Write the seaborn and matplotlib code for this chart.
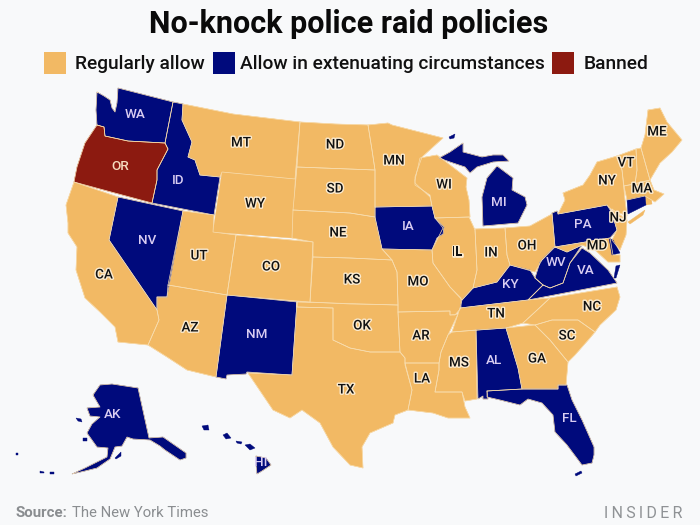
import matplotlib
matplotlib.use('Agg')
import matplotlib.pyplot as plt
import matplotlib.patheffects as pe
import pandas as pd
import seaborn as sns

# State outlines (map units, y grows downward)
WA = [(97,92),(104,96),(110,100),(112,108),(115,112),(117,103),(118,88),(173,102),(165,143),(128,141),(105,136),(104,127),(97,125),(96,110)]
OR = [(97,125),(104,127),(105,136),(128,141),(165,143),(168,149),(157,170),(157,180),(152,203),(74,182),(77,167),(85,143)]
ID = [(173,102),(183,104),(182,120),(192,142),(188,157),(195,160),(200,175),(220,177),(214,215),(152,203),(157,180),(157,170),(168,149),(165,143)]
MT = [(183,104),(233,114),(300,122),(296,167),(295,179),(222,172),(220,177),(200,175),(195,160),(188,157),(192,142),(182,120)]
ND = [(300,122),(335,124),(368,125),(372,150),(375,170),(297,167)]
SD = [(297,167),(375,170),(375,207),(375,217),(350,213),(293,210)]
WY = [(222,172),(295,179),(292,238),(213,232)]
NE = [(293,210),(350,213),(375,217),(382,249),(392,260),(350,258),(313,257),(313,242),(292,238)]
CO = [(236,235),(313,242),(310,302),(297,301),(227,295)]
UT = [(183,211),(214,215),(213,232),(236,235),(227,295),(168,285)]
NV = [(118,197),(183,211),(167,297),(157,297),(157,310),(109,240)]
CA = [(74,182),(118,197),(109,240),(157,310),(159,320),(148,345),(118,342),(115,327),(100,312),(85,298),(76,270),(77,247),(68,233),(68,223),(66,205)]
AZ = [(168,285),(227,295),(216,377),(187,370),(167,357),(148,345),(159,320),(157,310),(157,297),(167,297)]
NM = [(227,295),(297,302),(292,375),(247,372),(246,374),(227,375),(226,379),(216,377)]
TX = [(297,302),(297,307),(333,308),(333,340),(350,348),(370,352),(400,352),(405,358),(405,365),(412,390),(408,410),(395,415),(393,423),(370,433),(362,447),(363,468),(350,465),(333,447),(320,423),(302,410),(290,418),(273,410),(248,373),(292,375)]
OK = [(297,302),(398,305),(398,312),(400,352),(370,352),(350,348),(333,340),(333,308),(297,307)]
KS = [(313,257),(350,258),(392,260),(397,272),(398,305),(350,304),(310,302)]
MO = [(382,249),(432,250),(433,263),(450,287),(461,298),(461,308),(455,315),(450,315),(450,311),(398,312),(398,303),(397,272),(392,260)]
AR = [(398,312),(450,311),(450,315),(458,314),(448,335),(441,352),(439,363),(405,363),(405,358),(400,352)]
LA = [(405,363),(439,363),(439,370),(435,392),(462,392),(465,407),(470,418),(448,418),(433,413),(408,410),(412,390)]
MS = [(452,332),(476,330),(477,399),(465,401),(462,392),(435,392),(439,370),(439,363),(441,352),(448,335)]
AL = [(476,330),(506,328),(518,368),(522,389),(487,391),(488,399),(483,399),(483,396),(478,399)]
FL = [(487,391),(522,389),(558,389),(558,385),(567,385),(572,400),(582,420),(594,447),(594,455),(592,463),(582,465),(567,445),(555,432),(553,415),(542,403),(528,399),(520,405),(500,400),(487,397)]
FL_KEYS = [(575,474),(581,471),(582,473),(576,476)]
GA = [(506,328),(535,325),(550,340),(568,362),(566,385),(558,385),(558,389),(522,389),(518,368)]
SC = [(535,325),(552,320),(578,320),(595,332),(590,338),(575,355),(568,362),(550,340)]
NC = [(617,287),(620,297),(616,310),(600,325),(595,332),(578,320),(552,320),(535,325),(523,323),(535,312),(550,298)]
TN = [(460,308),(528,300),(550,298),(535,312),(523,323),(506,328),(452,332),(458,314)]
KY = [(460,308),(462,300),(473,288),(497,282),(510,265),(530,270),(535,278),(543,285),(528,300)]
WV = [(535,278),(540,262),(553,248),(555,247),(567,252),(582,245),(570,263),(563,283),(550,288),(543,285)]
VA = [(543,285),(550,288),(563,283),(570,263),(582,248),(590,253),(608,270),(617,283),(528,300)]
VA_SHORE = [(616,266),(620,265),(616,278),(614,278)]
MD = [(555,247),(610,238),(613,255),(620,255),(620,262),(608,262),(595,250),(582,245),(567,252)]
DE = [(609,238),(613,240),(620,253),(612,255)]
PA = [(552,213),(557,211),(558,214),(607,205),(612,213),(617,230),(610,238),(555,247)]
NJ = [(612,209),(627,220),(626,235),(620,250),(612,240),(617,230),(612,213)]
NY = [(563,193),(583,185),(590,175),(597,162),(617,156),(622,170),(625,200),(627,216),(612,210),(607,205),(558,214),(565,200)]
NY_LONG = [(628,222),(645,210),(643,215),(630,224)]
VT = [(617,156),(636,149),(637,170),(635,184),(624,186),(622,170)]
NH = [(636,149),(641,148),(650,180),(635,184),(637,170)]
ME = [(648,110),(660,108),(667,122),(682,140),(672,152),(660,163),(650,180),(641,148),(645,135)]
MA = [(624,186),(650,180),(654,190),(664,194),(655,202),(645,196),(627,200)]
CT = [(627,200),(645,196),(646,205),(628,214)]
RI = [(645,196),(651,195),(652,204),(646,205)]
OH = [(505,228),(530,226),(552,214),(555,247),(542,260),(535,272),(510,265),(507,255)]
IN = [(475,229),(505,228),(507,255),(510,265),(497,282),(473,288),(477,270)]
IL = [(435,218),(469,217),(475,230),(477,270),(473,288),(462,300),(450,287),(433,263),(432,250),(443,228)]
IA = [(375,207),(432,206),(435,218),(444,227),(443,234),(437,238),(432,250),(382,249),(375,218)]
WI = [(415,180),(420,158),(437,155),(467,178),(466,187),(469,200),(470,217),(435,218),(432,206),(430,195),(415,185)]
MN = [(368,125),(388,123),(392,125),(443,138),(422,157),(415,177),(415,183),(430,197),(432,206),(375,207),(375,170),(372,150)]
MI_UPPER = [(439,158),(450,152),(463,143),(463,152),(482,157),(493,155),(503,155),(509,161),(493,162),(477,167),(470,173),(465,167),(450,162)]
MI_LOWER = [(497,166),(513,178),(512,190),(525,197),(527,205),(518,223),(483,226),(482,197),(487,178)]
MI_ISLE = [(449,137),(455,134),(454,138),(450,139)]
AK = [(93,395),(100,385),(112,384),(138,388),(149,438),(163,437),(186,453),(186,458),(180,460),(165,450),(160,446),(150,440),(133,439),(127,437),(122,446),(115,447),(110,459),(97,468),(85,471),(72,474),(85,468),(95,463),(107,457),(108,448),(97,447),(87,433),(92,424),(100,417),(90,416),(87,408),(100,407)]
AK_KODIAK = [(115,458),(121,452),(121,456),(116,459)]
AK_LAWRENCE = [(76,418),(81,419),(82,422),(78,421)]
AK_NUNIVAK = [(83,438),(87,438),(87,441),(83,441)]
AK_ATTU = [(16,453),(18,453),(18,455),(16,455)]
AK_ALEUT_W = [(40,471),(44,472),(44,473),(40,473)]
AK_ALEUT_E = [(50,472),(54,472),(54,474),(50,474)]
HI_KAUAI = [(202,426),(208,425),(209,430),(204,430)]
HI_OAHU = [(223,435),(227,433),(231,438),(226,439)]
HI_MOLOKAI = [(236,441),(242,442),(241,444),(237,443)]
HI_MAUI = [(245,445),(250,444),(255,448),(250,450)]
HI_BIG = [(256,456),(266,458),(271,465),(262,471),(257,474),(256,465)]

# Policy per shape
allow_shapes = {'OH': OH, 'IN': IN, 'IL': IL, 'WI': WI, 'MN': MN, 'MT': MT, 'ND': ND, 'SD': SD, 'WY': WY, 'NE': NE,
                'CO': CO, 'UT': UT, 'CA': CA, 'AZ': AZ, 'TX': TX, 'OK': OK, 'KS': KS, 'MO': MO, 'AR': AR, 'LA': LA,
                'MS': MS, 'GA': GA, 'SC': SC, 'NC': NC, 'TN': TN, 'MD': MD, 'NJ': NJ, 'NY': NY, 'NY_LONG': NY_LONG,
                'VT': VT, 'NH': NH, 'ME': ME, 'MA': MA, 'RI': RI}
limited_shapes = {'WA': WA, 'ID': ID, 'NV': NV, 'NM': NM, 'AL': AL, 'FL': FL, 'FL_KEYS': FL_KEYS, 'KY': KY, 'WV': WV,
                  'VA': VA, 'VA_SHORE': VA_SHORE, 'DE': DE, 'PA': PA, 'CT': CT, 'IA': IA, 'MI_UPPER': MI_UPPER,
                  'MI_LOWER': MI_LOWER, 'MI_ISLE': MI_ISLE, 'AK': AK, 'AK_KODIAK': AK_KODIAK,
                  'AK_LAWRENCE': AK_LAWRENCE, 'AK_NUNIVAK': AK_NUNIVAK, 'AK_ATTU': AK_ATTU, 'AK_ALEUT_W': AK_ALEUT_W,
                  'AK_ALEUT_E': AK_ALEUT_E, 'HI_KAUAI': HI_KAUAI, 'HI_OAHU': HI_OAHU,
                  'HI_MOLOKAI': HI_MOLOKAI, 'HI_MAUI': HI_MAUI, 'HI_BIG': HI_BIG}
banned_shapes = {'OR': OR}

# State labels
dark_labels = ['MT', 'ND', 'SD', 'WY', 'NE', 'CO', 'UT', 'CA', 'AZ', 'TX', 'OK', 'KS', 'MO', 'AR', 'LA', 'MS', 'GA',
               'SC', 'NC', 'TN', 'MD', 'NJ', 'NY', 'VT', 'MA', 'ME', 'OH', 'IN', 'IL', 'WI', 'MN']
dark_x = [241, 335, 335, 255, 338, 271, 199, 104, 190, 346, 362, 352, 418, 421, 422, 459, 537,
          567, 592, 496, 597, 618, 607, 626, 642, 657, 527, 491, 457, 444, 394]
dark_y = [143, 145, 189, 204, 233, 267, 256, 275, 328, 390, 326, 280, 282, 336, 379, 363, 359,
          336, 307, 314, 246, 218, 181, 163, 189, 132, 246, 253, 252, 185, 161]
light_labels = ['WA', 'ID', 'NV', 'NM', 'AL', 'KY', 'WV', 'VA', 'PA', 'IA', 'MI', 'FL', 'AK', 'HI']
light_x = [135, 178, 147, 257, 494, 510, 556, 586, 583, 408, 499, 569, 113, 261]
light_y = [115, 181, 240, 334, 361, 284, 262, 271, 225, 227, 203, 419, 414, 462]

legend_labels = ['Regularly allow', 'Allow in extenuating circumstances', 'Banned']

ALLOW = '#F2B964'
LIMITED = '#000A7C'
BANNED = '#8C1A10'
BACKGROUND = '#F8F9FA'
BORDER = '#F8DDAE'

sns.set_theme(style='white')
plt.rcParams['font.family'] = ['Roboto', 'DejaVu Sans']

fig, ax = plt.subplots(figsize=(7, 5.25), dpi=100)
fig.patch.set_facecolor(BACKGROUND)
ax.set_position([0, 0, 1, 1])
ax.set_facecolor(BACKGROUND)

# Fill the states, then run the borders over them
rows = []
for shapes, colour in [(allow_shapes, ALLOW), (limited_shapes, LIMITED), (banned_shapes, BANNED)]:
    for name, outline in shapes.items():
        xs = [p[0] for p in outline]
        ys = [p[1] for p in outline]
        ax.fill(xs, ys, color=colour, lw=0.3)
        if len(outline) > 4:
            for x, y in outline + outline[:1]:
                rows.append({'shape': name, 'x': x, 'y': y})
borders = pd.DataFrame(rows)
sns.lineplot(data=borders, x='x', y='y', units='shape', estimator=None, sort=False,
             color=BORDER, lw=0.5, legend=False, ax=ax)

ax.set_xlim(0, 700)
ax.set_ylim(525, 0)
ax.axis('off')

halo = [pe.withStroke(linewidth=2, foreground='#FBEBD0')]
for label, x, y in zip(dark_labels, dark_x, dark_y):
    ax.text(x, y, label, ha='center', va='center', fontsize=9.7, fontweight='medium', color='#111111', path_effects=halo)
for label, x, y in zip(light_labels, light_x, light_y):
    ax.text(x, y, label, ha='center', va='center', fontsize=9.7, fontweight='medium', color='#D9CDF2')
ax.text(120, 166, 'OR', ha='center', va='center', fontsize=9.7, fontweight='medium', color='#F6DCC0')

ax.text(349, 24, 'No-knock police raid policies', ha='center', va='center', fontsize=22, fontweight='bold', color='#0A0A0A')

# Legend row
for left, colour in zip([44, 213, 552], [ALLOW, LIMITED, BANNED]):
    ax.fill([left, left + 22, left + 22, left], [52, 52, 74, 74], color=colour, lw=0)
for left, label in zip([75, 240, 584], legend_labels):
    ax.text(left, 64, label, ha='left', va='center', fontsize=13.75, fontweight='medium', color='#111111')

ax.text(15, 513, 'Source:', ha='left', va='center', fontsize=10.8, fontweight='bold', color='#8A8D90')
ax.text(72, 513, 'The New York Times', ha='left', va='center', fontsize=10.7, color='#8A8D90')
ax.text(682, 513, '\u2009'.join('INSIDER'), ha='right', va='center', fontsize=11.5, color='#8F9295')

fig.savefig('out.png', dpi=100, facecolor=BACKGROUND)
